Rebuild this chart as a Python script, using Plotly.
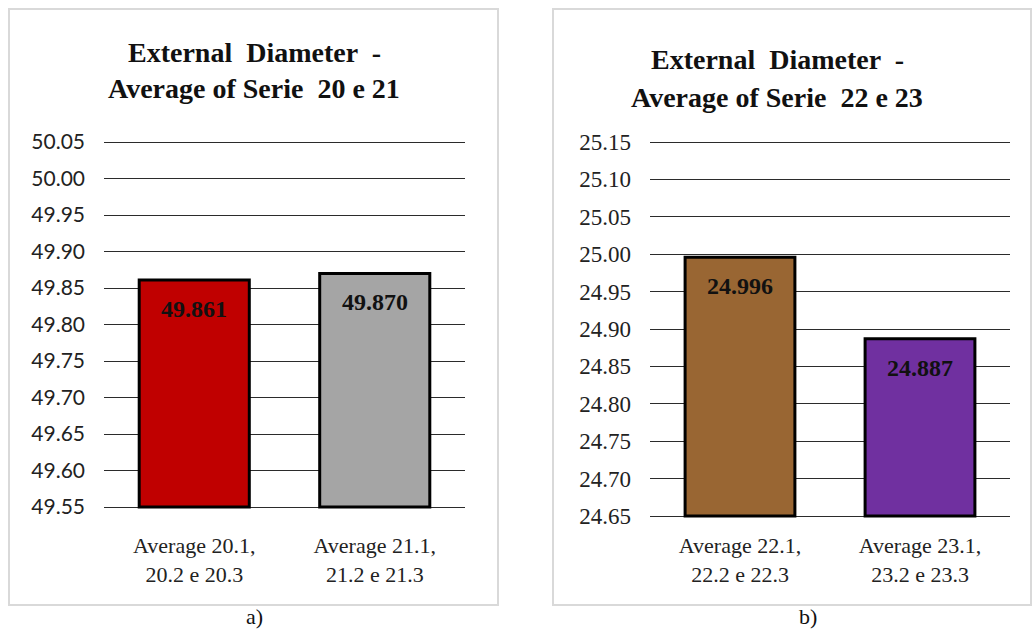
import plotly.graph_objects as go

W, H = 1032, 633

# Panel a) — series 20 and 21
cats_a = ["Average 20.1,<br>20.2 e 20.3", "Average 21.1,<br>21.2 e 21.3"]
vals_a = [49.861, 49.870]
colors_a = ["#C00000", "#A5A5A5"]
base_a = 49.55
top_a = 50.05

# Panel b) — series 22 and 23
cats_b = ["Average 22.1,<br>22.2 e 22.3", "Average 23.1,<br>23.2 e 23.3"]
vals_b = [24.996, 24.887]
colors_b = ["#996633", "#7030A0"]
base_b = 24.65
top_b = 25.15

titles_a = ["External  Diameter  -", "Average of Serie  20 e 21"]
titles_b = ["External  Diameter  -", "Average of Serie  22 e 23"]

SERIF = "Liberation Serif"
SANS = "Lato"
PAD = 3  # extra pixels above/below the value range so edge gridlines stay visible


def px(x):
    return x / W


def py(y):
    return 1 - y / H


def padded(y_top, y_bot, lo, hi):
    """Domain and range grown by PAD pixels on both ends, keeping the scale."""
    per_px = (hi - lo) / (y_bot - y_top)
    dom = [py(y_bot + PAD), py(y_top - PAD)]
    rng = [lo - PAD * per_px, hi + PAD * per_px]
    return dom, rng


dom_a, rng_a = padded(142, 507, base_a, top_a)
dom_b, rng_b = padded(142, 516, base_b, top_b)

fig = go.Figure()

fig.add_trace(go.Bar(
    x=cats_a, y=[v - base_a for v in vals_a], base=base_a,
    marker=dict(color=colors_a, line=dict(color="black", width=3)),
    width=0.61, xaxis="x", yaxis="y", showlegend=False,
))
fig.add_trace(go.Bar(
    x=cats_b, y=[v - base_b for v in vals_b], base=base_b,
    marker=dict(color=colors_b, line=dict(color="black", width=3)),
    width=0.61, xaxis="x2", yaxis="y2", showlegend=False,
))


def yaxis_style(family, size):
    return dict(
        dtick=0.05, tick0=0, tickformat=".2f", showgrid=True, gridcolor="#2b2b2b",
        gridwidth=1, zeroline=False, showline=False, ticks="",
        tickfont=dict(family=family, size=size, color="#222"),
        ticklabelstandoff=18,
    )


def xaxis_style(standoff):
    return dict(
        showgrid=False, zeroline=False, showline=False, ticks="",
        tickfont=dict(family=SERIF, size=22, color="#222"),
        ticklabelstandoff=standoff,
    )


fig.update_layout(
    width=W, height=H, autosize=False,
    margin=dict(l=0, r=0, t=0, b=0, pad=0, autoexpand=False),
    paper_bgcolor="white", plot_bgcolor="white",
    xaxis=dict(domain=[px(104), px(465)], anchor="y", **xaxis_style(20)),
    yaxis=dict(domain=dom_a, anchor="x", range=rng_a, **yaxis_style(SANS, 21)),
    xaxis2=dict(domain=[px(650), px(1010)], anchor="y2", **xaxis_style(11)),
    yaxis2=dict(domain=dom_b, anchor="x2", range=rng_b, **yaxis_style(SERIF, 23)),
    bargap=0.39,
)

# Panel frames
fig.add_shape(type="rect", xref="paper", yref="paper",
              x0=px(9), x1=px(498), y0=py(605), y1=py(9),
              line=dict(color="#d9d9d9", width=2), layer="below")
fig.add_shape(type="rect", xref="paper", yref="paper",
              x0=px(553), x1=px(1031), y0=py(605), y1=py(9),
              line=dict(color="#d9d9d9", width=2), layer="below")

annotations = []

# Titles
for txt, y in zip(titles_a, [52, 88]):
    annotations.append(dict(text=f"<b>{txt}</b>", x=px(254), y=py(y), xref="paper", yref="paper",
                            showarrow=False, xanchor="center", yanchor="middle",
                            font=dict(family=SERIF, size=28, color="#111")))
for txt, y in zip(titles_b, [60, 97]):
    annotations.append(dict(text=f"<b>{txt}</b>", x=px(777), y=py(y), xref="paper", yref="paper",
                            showarrow=False, xanchor="center", yanchor="middle",
                            font=dict(family=SERIF, size=28, color="#111")))

# Value labels inside the bars
for c, v in zip(cats_a, vals_a):
    annotations.append(dict(text=f"<b>{v:.3f}</b>", x=c, y=v, xref="x", yref="y",
                            showarrow=False, yanchor="middle", yshift=-29,
                            font=dict(family=SERIF, size=24, color="#111")))
for c, v in zip(cats_b, vals_b):
    annotations.append(dict(text=f"<b>{v:.3f}</b>", x=c, y=v, xref="x2", yref="y2",
                            showarrow=False, yanchor="middle", yshift=-29,
                            font=dict(family=SERIF, size=24, color="#111")))

# Panel captions
annotations.append(dict(text="a)", x=px(254), y=py(631), xref="paper", yref="paper",
                        showarrow=False, xanchor="center", yanchor="bottom",
                        font=dict(family=SERIF, size=22, color="#111")))
annotations.append(dict(text="b)", x=px(808), y=py(631), xref="paper", yref="paper",
                        showarrow=False, xanchor="center", yanchor="bottom",
                        font=dict(family=SERIF, size=22, color="#111")))

fig.update_layout(annotations=annotations)

fig.write_html("out.html")
